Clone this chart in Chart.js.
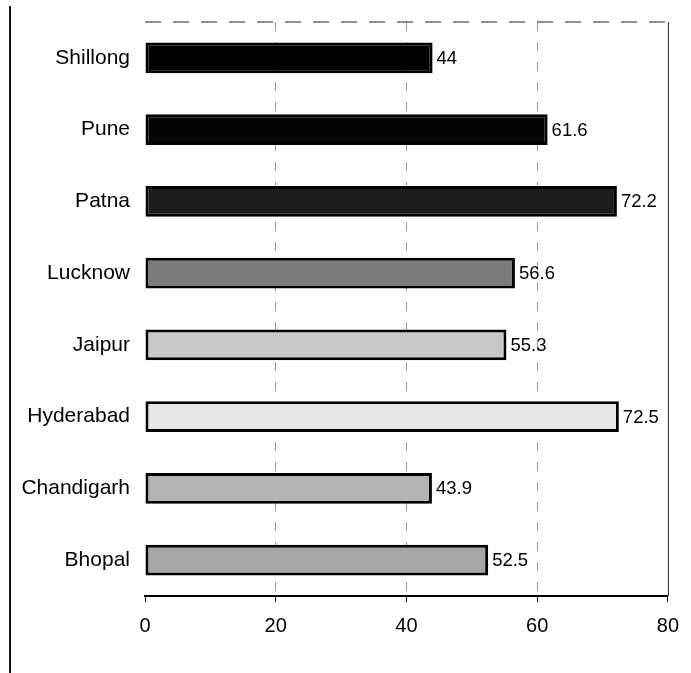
<!DOCTYPE html>
<html>
<head>
<meta charset="utf-8">
<script src="https://cdn.jsdelivr.net/npm/chart.js@4"></script>
<style>
  html, body { margin: 0; padding: 0; background: #fff; }
  #wrap { position: relative; width: 691px; height: 673px; }
  #edge { position: absolute; left: 9px; top: 6px; bottom: 0; border-left: 2px solid #111; }
</style>
</head>
<body>
<div id="wrap">
  <div id="edge"></div>
  <canvas id="myChart" width="691" height="673"></canvas>
</div>
<script>
// cities, top to bottom as in the picture
const cities = ['Shillong', 'Pune', 'Patna', 'Lucknow', 'Jaipur', 'Hyderabad', 'Chandigarh', 'Bhopal'];
const values = [44, 61.6, 72.2, 56.6, 55.3, 72.5, 43.9, 52.5];
const barFills = ['#000000', '#050505', '#1c1c1c', '#7a7a7a', '#c8c8c8', '#e6e6e6', '#b4b4b4', '#a6a6a6'];
const xTicks = [0, 20, 40, 60, 80];

const fontFamily = '"Liberation Sans", Arial, Helvetica, sans-serif';

// value written just right of each bar
const valueLabels = {
  id: 'valueLabels',
  afterDatasetsDraw(chart) {
    let ctx = chart.ctx;
    let meta = chart.getDatasetMeta(0);
    ctx.save();
    ctx.font = '18.5px ' + fontFamily;
    ctx.fillStyle = '#000';
    ctx.textAlign = 'left';
    ctx.textBaseline = 'middle';
    meta.data.forEach((bar, i) => {
      ctx.fillText(String(values[i]), bar.x + 4, bar.y + 1);
    });
    ctx.restore();
  }
};

// dashed top edge and solid right edge of the plot box
const frame = {
  id: 'frame',
  beforeDatasetsDraw(chart) {
    let {ctx, chartArea} = chart;
    ctx.save();
    ctx.strokeStyle = '#222';
    ctx.lineWidth = 1;
    ctx.setLineDash([16, 12]);
    ctx.beginPath();
    ctx.moveTo(chartArea.left, chartArea.top);
    ctx.lineTo(chartArea.right, chartArea.top);
    ctx.stroke();
    ctx.setLineDash([]);
    ctx.beginPath();
    ctx.moveTo(chartArea.right + 0.5, chartArea.top);
    ctx.lineTo(chartArea.right + 0.5, chartArea.bottom);
    ctx.stroke();
    ctx.restore();
  }
};

let ctx = document.getElementById('myChart').getContext('2d');
let myChart = new Chart(ctx, {
  type: 'bar',
  data: {
    labels: cities,
    datasets: [{
      data: values,
      backgroundColor: barFills,
      borderColor: '#000',
      borderWidth: 3,
      borderSkipped: false,
      barPercentage: 0.43,
      categoryPercentage: 1
    }]
  },
  plugins: [frame, valueLabels],
  options: {
    indexAxis: 'y',
    responsive: false,
    animation: false,
    layout: { padding: { top: 22, right: 23, left: 0, bottom: 0 } },
    plugins: {
      legend: { display: false },
      tooltip: { enabled: false }
    },
    scales: {
      x: {
        min: 0,
        max: 80,
        afterBuildTicks: (scale) => { scale.ticks = xTicks.map(v => ({ value: v })); },
        afterFit: (scale) => { scale.height = 77; },
        grid: {
          color: (c) => (c.index === 0 || c.index === 4) ? 'rgba(0,0,0,0)' : '#999',
          tickColor: '#000',
          tickLength: 6,
          lineWidth: 1
        },
        border: { display: true, color: '#000', width: 2, dash: [9, 11] },
        ticks: {
          color: '#000',
          padding: 12,
          font: { family: fontFamily, size: 20 }
        }
      },
      y: {
        afterFit: (scale) => {
          scale.width = 145;
          // tick padding should not push the plot down
          scale.paddingTop = 0;
          scale.paddingBottom = 0;
        },
        grid: { display: false, drawTicks: false },
        border: { display: false },
        ticks: {
          color: '#000',
          padding: 15,
          font: { family: fontFamily, size: 21 }
        }
      }
    }
  }
});
</script>
</body>
</html>
